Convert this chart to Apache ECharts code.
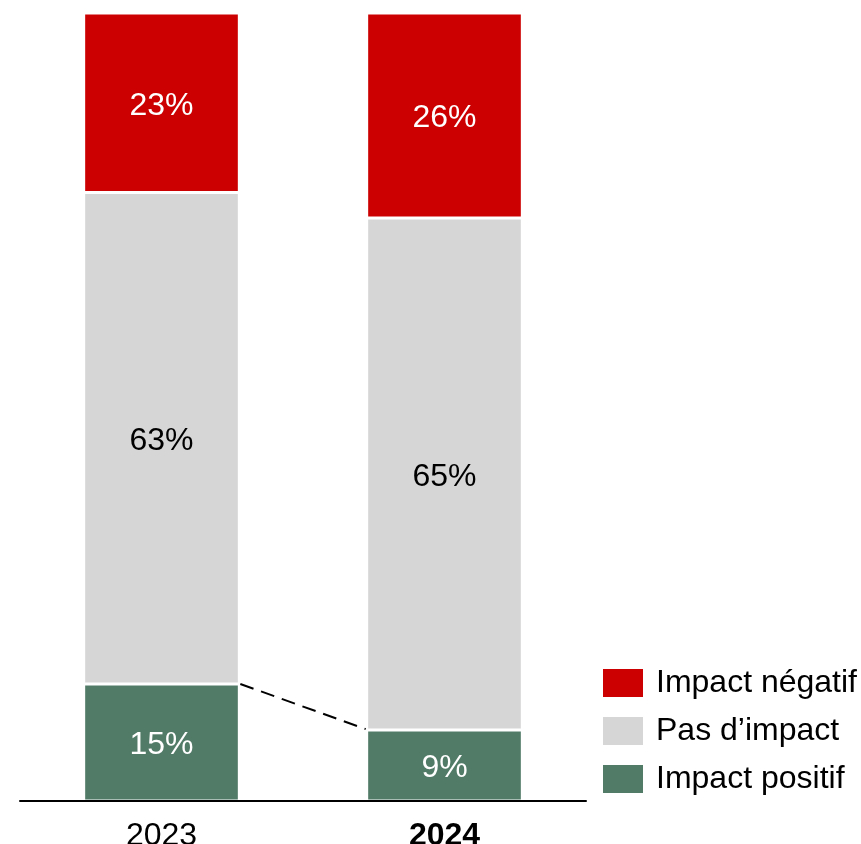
<!DOCTYPE html>
<html>
<head>
<meta charset="utf-8">
<script src="https://cdn.jsdelivr.net/npm/echarts@6/dist/echarts.min.js"></script>
<style>
  html, body { margin: 0; padding: 0; background: #fff; }
  #chart { width: 861px; height: 844px; }
</style>
</head>
<body>
<div id="chart"></div>
<script>
// Survey answers per year, in percent (as printed on the bars)
const years = ['2023', '2024'];
const positive = [15, 9];
const noImpact = [63, 65];
const negative = [23, 26];
const seriesNames = ['Impact positif', 'Pas d\u2019impact', 'Impact n\u00e9gatif'];
const colors = ['#517A67', '#D6D6D6', '#CC0000'];
const labelColors = ['#ffffff', '#000000', '#ffffff'];

const FONT = '"Liberation Sans", Arial, sans-serif';
const BAR_WIDTH_RATIO = 0.55;

// Each column is a 100 % stack: rounded answers are rescaled to their column total
const totals = years.map((_, i) => positive[i] + noImpact[i] + negative[i]);
const toShares = arr => arr.map((v, i) => ({ value: v / totals[i] * 100, raw: v }));
const stacks = [positive, noImpact, negative];

const chart = echarts.init(document.getElementById('chart'), null, { renderer: 'canvas' });

const barSeries = stacks.map((arr, k) => ({
  name: seriesNames[k],
  type: 'bar',
  stack: 'total',
  barWidth: (BAR_WIDTH_RATIO * 100) + '%',
  data: toShares(arr),
  itemStyle: { color: colors[k], borderColor: '#ffffff', borderWidth: 1.5 },
  label: {
    show: true,
    position: 'inside',
    offset: [0, 3],
    color: labelColors[k],
    fontFamily: FONT,
    fontSize: 32,
    formatter: p => p.data.raw + '%'
  },
  emphasis: { disabled: true },
  animation: false
}));

// Dashed connector between the tops of the "Impact positif" segments
const positiveShares = toShares(positive).map(d => d.value);
const connector = {
  type: 'custom',
  coordinateSystem: 'cartesian2d',
  data: [[0, 0]],
  z: 5,
  silent: true,
  animation: false,
  renderItem: function (params, api) {
    const a = api.coord([0, positiveShares[0]]);
    const b = api.coord([1, positiveShares[1]]);
    const half = api.size([1, 0])[0] * BAR_WIDTH_RATIO / 2;
    return {
      type: 'line',
      shape: { x1: a[0] + half + 1, y1: a[1], x2: b[0] - half - 1, y2: b[1] - 1 },
      style: { stroke: '#000000', lineWidth: 2, lineDash: [14, 8] }
    };
  }
};

chart.setOption({
  animation: false,
  grid: { left: 20, right: 275, top: 13, bottom: 43, containLabel: false, outerBoundsMode: 'none' },
  legend: {
    orient: 'vertical',
    left: 601,
    top: 667,
    padding: 0,
    itemWidth: 42,
    itemHeight: 30,
    itemGap: 16,
    icon: 'rect',
    selectedMode: false,
    data: [seriesNames[2], seriesNames[1], seriesNames[0]],
    textStyle: { fontFamily: FONT, fontSize: 32, color: '#000000', padding: [0, 0, 0, 7] }
  },
  xAxis: {
    type: 'category',
    data: [
      { value: years[0] },
      { value: years[1], textStyle: { fontWeight: 'bold' } }
    ],
    boundaryGap: true,
    z: 10,
    axisLine: { show: true, lineStyle: { color: '#000000', width: 2 } },
    axisTick: { show: false },
    axisLabel: { fontFamily: FONT, fontSize: 32, color: '#000000', margin: 19 }
  },
  yAxis: {
    type: 'value',
    min: 0,
    max: 100,
    show: false,
    splitLine: { show: false }
  },
  series: [...barSeries, connector]
});
</script>
</body>
</html>
